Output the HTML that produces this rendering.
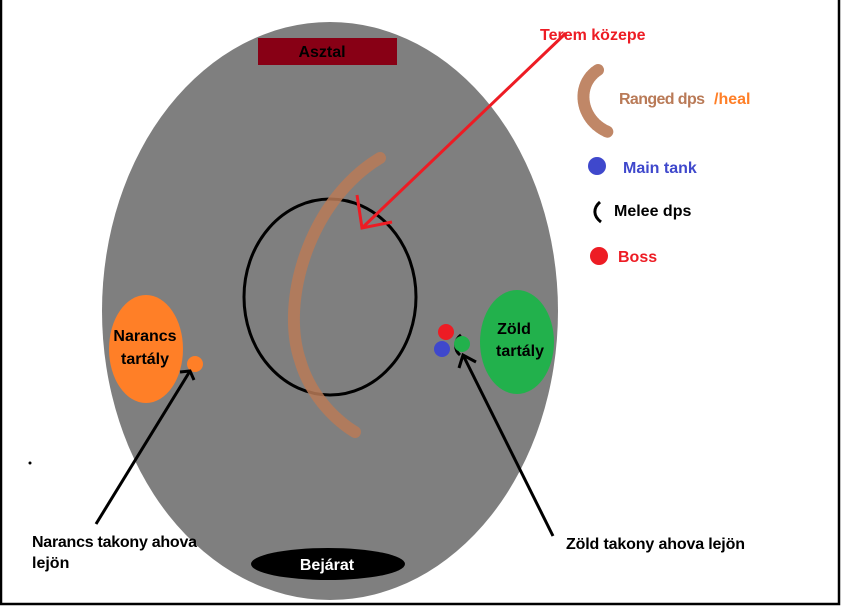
<!DOCTYPE html>
<html><head><meta charset="utf-8"><style>
html,body{margin:0;padding:0;background:#fff;}
svg{display:block;}
text{font-family:"Liberation Sans",sans-serif;font-weight:bold;font-size:16px;}
</style></head><body>
<svg width="842" height="606" viewBox="0 0 842 606" xmlns="http://www.w3.org/2000/svg">
<rect x="0" y="0" width="842" height="606" fill="#fff"/>
<rect x="1" y="-6" width="838" height="610" fill="none" stroke="#000" stroke-width="2.5"/>
<ellipse cx="330" cy="311" rx="228" ry="289" fill="#7f7f7f"/>
<rect x="258" y="38" width="139" height="27" fill="#880015"/>
<text x="322" y="57" text-anchor="middle" fill="#000">Asztal</text>
<ellipse cx="330" cy="297" rx="86" ry="98" fill="none" stroke="#000" stroke-width="3"/>
<path d="M380,158 C310,200 280,300 300,360 C310,395 335,420 355,432" fill="none" stroke="#b97a57" stroke-width="12" stroke-linecap="round" stroke-dasharray="1.5 1.5" opacity="0.85"/>
<ellipse cx="146" cy="349" rx="37" ry="54" fill="#ff7f27"/>
<text x="145" y="341" text-anchor="middle">Narancs</text>
<text x="145" y="364" text-anchor="middle">tartály</text>
<circle cx="195" cy="364" r="8" fill="#ff7f27"/>
<ellipse cx="517" cy="342" rx="37" ry="52" fill="#22b14c"/>
<text x="514" y="334" text-anchor="middle">Zöld</text>
<text x="520" y="356" text-anchor="middle">tartály</text>
<circle cx="446" cy="332" r="8" fill="#ed1c24"/>
<circle cx="442" cy="349" r="8" fill="#3f48cc"/>
<path d="M461,335 C454,340 454,350 460,355" fill="none" stroke="#000" stroke-width="3"/>
<circle cx="462" cy="344" r="8" fill="#22b14c"/>
<ellipse cx="328" cy="564" rx="77" ry="16" fill="#000"/>
<text x="327" y="570" text-anchor="middle" fill="#fff">Bejárat</text>
<line x1="566" y1="33" x2="362" y2="228" stroke="#ed1c24" stroke-width="3"/>
<polyline points="357,195 362,228 392,222" fill="none" stroke="#ed1c24" stroke-width="3"/>
<text x="540" y="40" fill="#ed1c24">Terem közepe</text>
<line x1="96" y1="524" x2="190" y2="371" stroke="#000" stroke-width="3"/>
<polyline points="180,372 190,371 194,380" fill="none" stroke="#000" stroke-width="3"/>
<line x1="553" y1="536" x2="463" y2="355" stroke="#000" stroke-width="3"/>
<polyline points="459,368 463,355 476,362" fill="none" stroke="#000" stroke-width="3"/>
<text x="32" y="547" textLength="165">Narancs takony ahova</text>
<text x="32" y="568">lejön</text>
<text x="566" y="549" textLength="179">Zöld takony ahova lejön</text>
<circle cx="30" cy="463" r="1.5" fill="#000"/>
<path d="M598,70 C575,85 580,120 608,132" fill="none" stroke="#b97a57" stroke-width="12" stroke-linecap="round" stroke-dasharray="1.5 1.5" opacity="0.9"/>
<text x="619" y="104" fill="#b97a57" textLength="86">Ranged dps</text>
<text x="714" y="104" fill="#ff7f27">/heal</text>
<circle cx="597" cy="166" r="9" fill="#3f48cc"/>
<text x="623" y="173" fill="#3f48cc">Main tank</text>
<path d="M600,202 C593,208 593,216 601,222" fill="none" stroke="#000" stroke-width="3"/>
<text x="614" y="216" fill="#000">Melee dps</text>
<circle cx="599" cy="256" r="9" fill="#ed1c24"/>
<text x="618" y="262" fill="#ed1c24">Boss</text>
</svg>
</body></html>
